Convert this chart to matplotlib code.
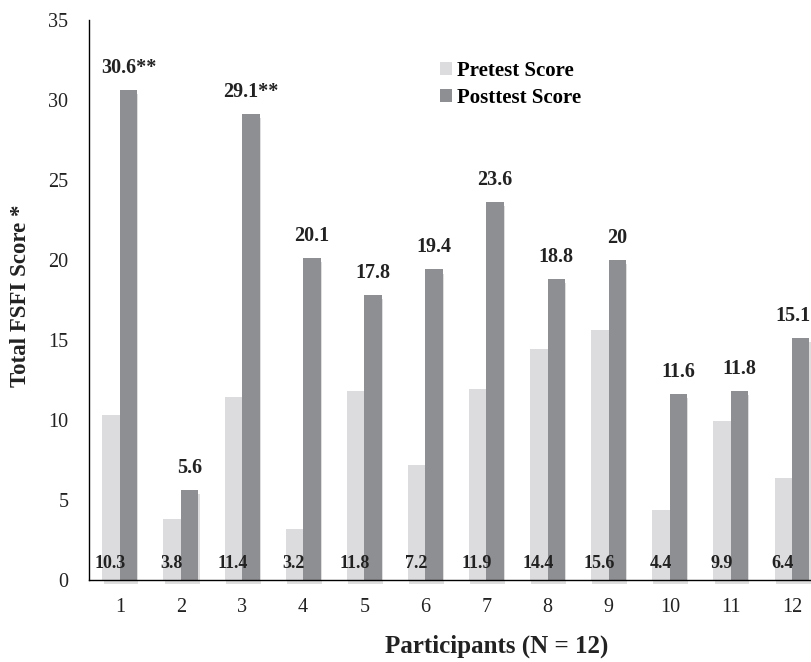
import numpy as np
import matplotlib.pyplot as plt
import matplotlib.patheffects as pe

# FSFI scores per participant
participants = ["1", "2", "3", "4", "5", "6", "7", "8", "9", "10", "11", "12"]
pretest = [10.3, 3.8, 11.4, 3.2, 11.8, 7.2, 11.9, 14.4, 15.6, 4.4, 9.9, 6.4]
posttest = [30.6, 5.6, 29.1, 20.1, 17.8, 19.4, 23.6, 18.8, 20, 11.6, 11.8, 15.1]
post_labels = ["30.6**", "5.6", "29.1**", "20.1", "17.8", "19.4", "23.6",
               "18.8", "20", "11.6", "11.8", "15.1"]
pre_labels = [str(v) for v in pretest]

plt.rcParams['font.family'] = ['Liberation Serif', 'DejaVu Serif']

fig = plt.figure(figsize=(8.12, 6.62), dpi=100)
ax = fig.add_axes([0.110, 0.124, 0.903, 0.846])

x = np.arange(1, len(participants) + 1)
w = 0.286
shadow = [pe.SimplePatchShadow(offset=(0.8, -3), shadow_rgbFace="#000000", alpha=0.13), pe.Normal()]
b1 = ax.bar(x - w / 2, pretest, w, color="#dcdcde", label="Pretest Score", zorder=2)
b2 = ax.bar(x + w / 2, posttest, w, color="#8e8f93", label="Posttest Score", zorder=2)
for p in list(b1) + list(b2):
    p.set_path_effects(shadow)
    p.set_clip_on(False)

for xi, lab in zip(x, pre_labels):
    ax.text(xi - w / 2 - 0.01, 0.5, lab, ha="center", va="bottom",
            fontsize=13, fontweight="bold", color="#222222", zorder=3)
for i, (xi, v, lab) in enumerate(zip(x, posttest, post_labels)):
    # last label is kept inside the figure, like the original
    if i == len(x) - 1:
        ax.text(xi + w + 0.02, v + 0.75, lab, ha="right", va="bottom",
                fontsize=14.5, fontweight="bold", color="#222222", zorder=3)
    else:
        ax.text(xi + w / 2, v + 0.75, lab, ha="center", va="bottom",
                fontsize=14.5, fontweight="bold", color="#222222", zorder=3)

ax.set_xlim(0.5, 12.5)
ax.set_ylim(0, 35)
ax.set_yticks(range(0, 36, 5))
ax.set_xticks(x)
ax.set_xticklabels(participants)
ax.tick_params(length=0, labelsize=14.5, colors="#222222")
ax.tick_params(axis="y", pad=15)
ax.tick_params(axis="x", pad=13)

for side in ["top", "right"]:
    ax.spines[side].set_visible(False)
ax.spines["left"].set_linewidth(1.0)
ax.spines["bottom"].set_linewidth(1.0)
ax.spines["bottom"].set_zorder(4)

ax.set_ylabel("Total FSFI Score *", fontsize=16.5, fontweight="bold", color="#222222")
ax.yaxis.set_label_coords(-0.08, 0.507)
ax.set_xlabel("Participants (N = 12)", fontsize=18, fontweight="bold", color="#222222")
ax.xaxis.set_label_coords(0.556, -0.097)

leg = ax.legend(loc="upper left", bbox_to_anchor=(0.478, 0.926), frameon=False,
                prop={"weight": "bold", "size": 15}, handlelength=0.58,
                handleheight=0.58, handletextpad=0.25, labelspacing=0.3,
                borderpad=0, borderaxespad=0)
for h in leg.get_patches():
    h.set_path_effects([])

fig.savefig("out.png", dpi=100)
